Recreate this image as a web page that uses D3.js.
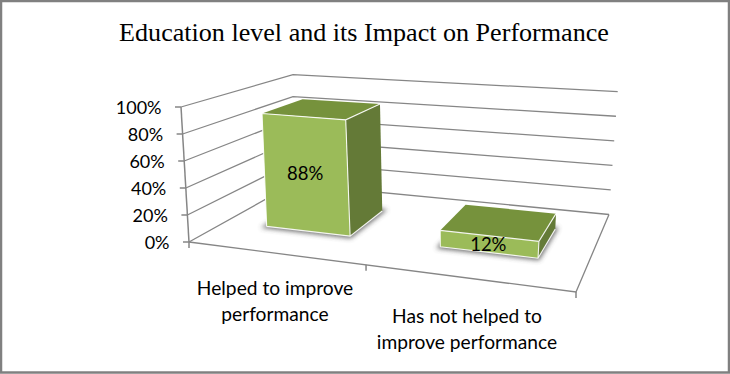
<!DOCTYPE html>
<html>
<head>
<meta charset="utf-8">
<script src="https://cdn.jsdelivr.net/npm/d3@7"></script>
<style>
html, body { margin: 0; padding: 0; background: #fff; }
svg { display: block; }
</style>
</head>
<body>
<script>
const categories = ["Helped to improve performance", "Has not helped to improve performance"];
const categoryLines = [["Helped to improve", "performance"], ["Has not helped to", "improve performance"]];
const values = [88, 12];
const valueTicks = [0, 20, 40, 60, 80, 100];
const title = "Education level and its Impact on Performance";

const WIDTH = 730;
const HEIGHT = 374;

// corners of the 3d box on screen: front left, front right, back right, back left
const FLOOR = [[189, 242], [576, 292], [609, 214.5], [293, 184]];
const CEILING = [[181, 107], [592, 140], [617.7, 91.7], [293, 74.7]];

const COLOR_FRONT = "#9BBB59";
const COLOR_TOP = "#76923C";
const COLOR_SIDE = "#647A37";
const COLOR_GRID = "#868686";
const COLOR_BORDER = "#868686";
const LABEL_FONT = "Lato, 'Open Sans', sans-serif";

const floorAt = quadMap(FLOOR);
const ceilingAt = quadMap(CEILING);

const u = d3.scaleBand()
	.domain(categories)
	.range([0.005, 1.005])
	.paddingInner(0.5)
	.paddingOuter(0.25);

const y = d3.scaleLinear().domain([0, 100]).range([0, 1]);
const BAR_DEPTH = [0.305, 0.7];

const svg = d3.select("body").append("svg")
	.attr("width", WIDTH)
	.attr("height", HEIGHT);

const defs = svg.append("defs");
defs.append("filter")
	.attr("id", "shadow")
	.attr("x", "-30%").attr("y", "-30%")
	.attr("width", "160%").attr("height", "160%")
	.append("feGaussianBlur")
	.attr("stdDeviation", 2.5);

svg.append("rect")
	.attr("x", 1).attr("y", 1)
	.attr("width", WIDTH - 2).attr("height", HEIGHT - 2.5)
	.attr("fill", "#fff")
	.attr("stroke", "#808080")
	.attr("stroke-width", 2.5);

svg.append("text")
	.attr("x", 364)
	.attr("y", 41)
	.attr("text-anchor", "middle")
	.attr("font-family", "'Liberation Serif', serif")
	.attr("font-size", "26.1px")
	.attr("fill", "#000")
	.text(title);

const line = d3.line();
const grid = svg.append("g")
	.attr("fill", "none")
	.attr("stroke", COLOR_GRID)
	.attr("stroke-width", 1.3);

// walls
valueTicks.forEach(t => {
	grid.append("path").attr("d", line([project(0, 0, t), project(0, 1, t), project(1, 1, t)]));
});

// floor edges
grid.append("path").attr("d", line([project(0, 0, 0), project(1, 0, 0), project(1, 1, 0)]));

// value axis
const axisGroup = svg.append("g");
axisGroup.append("path")
	.attr("d", line([project(0, 0, 0), project(0, 0, 100)]))
	.attr("fill", "none")
	.attr("stroke", COLOR_BORDER)
	.attr("stroke-width", 1.5);

valueTicks.forEach(t => {
	const p = project(0, 0, t);
	axisGroup.append("line")
		.attr("x1", p[0] - 6).attr("x2", p[0])
		.attr("y1", p[1]).attr("y2", p[1])
		.attr("stroke", COLOR_BORDER)
		.attr("stroke-width", 1.5);
	axisGroup.append("text")
		.attr("x", p[0] - 19.5)
		.attr("y", p[1] + 6.5)
		.attr("text-anchor", "end")
		.attr("font-family", LABEL_FONT)
		.attr("font-size", "18px")
		.attr("fill", "#000")
		.text(t + "%");
});

// category ticks
[0, 0.5, 1].forEach(t => {
	const p = project(t, 0, 0);
	axisGroup.append("line")
		.attr("x1", p[0]).attr("x2", p[0])
		.attr("y1", p[1]).attr("y2", p[1] + 6)
		.attr("stroke", COLOR_BORDER)
		.attr("stroke-width", 1.5);
});

// bars
const bars = svg.append("g")
	.selectAll("g")
	.data(categories)
	.join("g");

bars.each(function (cat, i) {
	const g = d3.select(this);
	const u0 = u(cat);
	const u1 = u0 + u.bandwidth();
	const [d0, d1] = BAR_DEPTH;
	const v = values[i];

	const fl = project(u0, d0, 0), fr = project(u1, d0, 0), br = project(u1, d1, 0);
	const flTop = project(u0, d0, v), frTop = project(u1, d0, v);
	const brTop = project(u1, d1, v), blTop = project(u0, d1, v);

	g.append("path")
		.attr("d", line([fl, fr, br, project(u0, d1, 0)]) + "Z")
		.attr("fill", "#444")
		.attr("stroke", "#444")
		.attr("stroke-width", 4)
		.attr("opacity", 0.8)
		.attr("filter", "url(#shadow)");

	g.append("path").attr("d", line([flTop, frTop, brTop, blTop]) + "Z").attr("fill", COLOR_TOP);
	g.append("path").attr("d", line([fr, br, brTop, frTop]) + "Z").attr("fill", COLOR_SIDE);
	g.append("path").attr("d", line([fl, fr, frTop, flTop]) + "Z").attr("fill", COLOR_FRONT);

	// white highlight along the visible edges
	g.append("path")
		.attr("d", line([fl, fr, br]) + "M" + line([flTop, frTop, brTop]).slice(1) + "M" + line([frTop, fr]).slice(1) + "M" + line([flTop, fl]).slice(1))
		.attr("fill", "none")
		.attr("stroke", "#fff")
		.attr("stroke-opacity", 0.9)
		.attr("stroke-width", 1.1);

	const c = project((u0 + u1) / 2, d0, v / 2);
	g.append("text")
		.attr("x", c[0])
		.attr("y", c[1] + 6.5)
		.attr("text-anchor", "middle")
		.attr("font-family", LABEL_FONT)
		.attr("font-size", "18.5px")
		.attr("fill", "#000")
		.text(v + "%");
});

// category labels
const LABEL_POS = [[275, 295], [467, 322.5]];
categoryLines.forEach((lines, i) => {
	const text = svg.append("text")
		.attr("text-anchor", "middle")
		.attr("font-family", LABEL_FONT)
		.attr("font-size", "19.2px")
		.attr("fill", "#000");
	lines.forEach((l, k) => {
		text.append("tspan")
			.attr("x", LABEL_POS[i][0])
			.attr("y", LABEL_POS[i][1] + k * 26)
			.text(l);
	});
});

function project(a, depth, value) {
	const f = floorAt(a, depth);
	const c = ceilingAt(a, depth);
	const t = y(value);
	return [f[0] + (c[0] - f[0]) * t, f[1] + (c[1] - f[1]) * t];
}

// unit square to screen quad, keeps perspective
function quadMap(q) {
	const [[x0, y0], [x1, y1], [x2, y2], [x3, y3]] = q;
	const dx1 = x1 - x2, dx2 = x3 - x2, sx = x0 - x1 + x2 - x3;
	const dy1 = y1 - y2, dy2 = y3 - y2, sy = y0 - y1 + y2 - y3;
	const den = dx1 * dy2 - dx2 * dy1;
	const g = (sx * dy2 - dx2 * sy) / den;
	const h = (dx1 * sy - sx * dy1) / den;
	const a = x1 - x0 + g * x1, b = x3 - x0 + h * x3;
	const d = y1 - y0 + g * y1, e = y3 - y0 + h * y3;
	return (p, r) => {
		const w = g * p + h * r + 1;
		return [(a * p + b * r + x0) / w, (d * p + e * r + y0) / w];
	};
}
</script>
</body>
</html>
